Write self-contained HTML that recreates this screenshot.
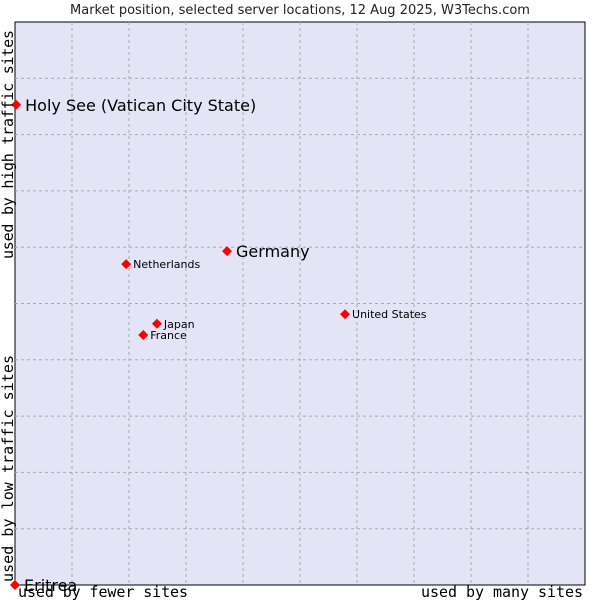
<!DOCTYPE html>
<html><head><meta charset="utf-8"><style>
body{margin:0;background:#fff;width:600px;height:600px;overflow:hidden}
svg text{font-family:"DejaVu Sans","Liberation Sans",sans-serif}
.mono{font-family:'DejaVu Sans Mono','Liberation Mono',monospace}
</style></head><body>
<svg id="chart" width="600" height="600" xmlns="http://www.w3.org/2000/svg">
<text x="300" y="14" text-anchor="middle" font-size="13" fill="#222">Market position, selected server locations, 12 Aug 2025, W3Techs.com</text>
<rect x="15" y="22" width="570" height="563" fill="#e3e5f7" stroke="#000" stroke-width="1"/>
<g id="grid"></g>
<g id="pts"></g>
<text class="mono" transform="translate(13,259) rotate(-90)" font-size="15" textLength="229" fill="#000" style="font-family:'DejaVu Sans Mono','Liberation Mono',monospace">used by high traffic sites</text>
<text class="mono" transform="translate(13,582) rotate(-90)" font-size="15" textLength="227" fill="#000" style="font-family:'DejaVu Sans Mono','Liberation Mono',monospace">used by low traffic sites</text>
<text class="mono" x="18" y="597" font-size="15" textLength="170" fill="#000" style="font-family:'DejaVu Sans Mono','Liberation Mono',monospace">used by fewer sites</text>
<text class="mono" x="421" y="597" font-size="15" textLength="162" fill="#000" style="font-family:'DejaVu Sans Mono','Liberation Mono',monospace">used by many sites</text>
</svg>
<script>
const names=["Holy See (Vatican City State)","Germany","Netherlands","United States","Japan","France","Eritrea"];
const xVals=[0.2,37.2,19.5,57.9,24.9,22.5,0];
const yVals=[85.3,59.3,57.0,48.1,46.4,44.4,0];
const big=[true,true,false,false,false,false,true];
const X0=15,X1=585,Y0=585,Y1=22;
const sx=v=>X0+(X1-X0)*v/100, sy=v=>Y0-(Y0-Y1)*v/100;
const NS="http://www.w3.org/2000/svg";
const grid=document.getElementById('grid'),pts=document.getElementById('pts');
for(let i=1;i<10;i++){
 const l=document.createElementNS(NS,'line');
 
 
 l.setAttribute('x1',sx(i*10));l.setAttribute('x2',sx(i*10));l.setAttribute('y1',Y1);l.setAttribute('y2',Y0);
 l.setAttribute('stroke','#aaa');l.setAttribute('stroke-dasharray','3,3');grid.appendChild(l);
 const h=document.createElementNS(NS,'line');
 
 
 h.setAttribute('x1',X0);h.setAttribute('x2',X1);h.setAttribute('y1',sy(i*10));h.setAttribute('y2',sy(i*10));
 h.setAttribute('stroke','#aaa');h.setAttribute('stroke-dasharray','3,3');grid.appendChild(h);
}
names.forEach((n,i)=>{
 const x=sx(xVals[i]),y=sy(yVals[i]);
 const d=document.createElementNS(NS,'polygon');
 
 
 d.setAttribute('points',`${x},${y-5} ${x+5},${y} ${x},${y+5} ${x-5},${y}`);
 d.setAttribute('fill','#f00');pts.appendChild(d);
 const t=document.createElementNS(NS,'text');
 
 
 t.setAttribute('x',x+(big[i]?9:7));t.setAttribute('y',y+(big[i]?6:4));
 t.setAttribute('font-size',big[i]?16:11);t.setAttribute('fill','#000');
 t.textContent=n;pts.appendChild(t);
});
</script>
</body></html>
